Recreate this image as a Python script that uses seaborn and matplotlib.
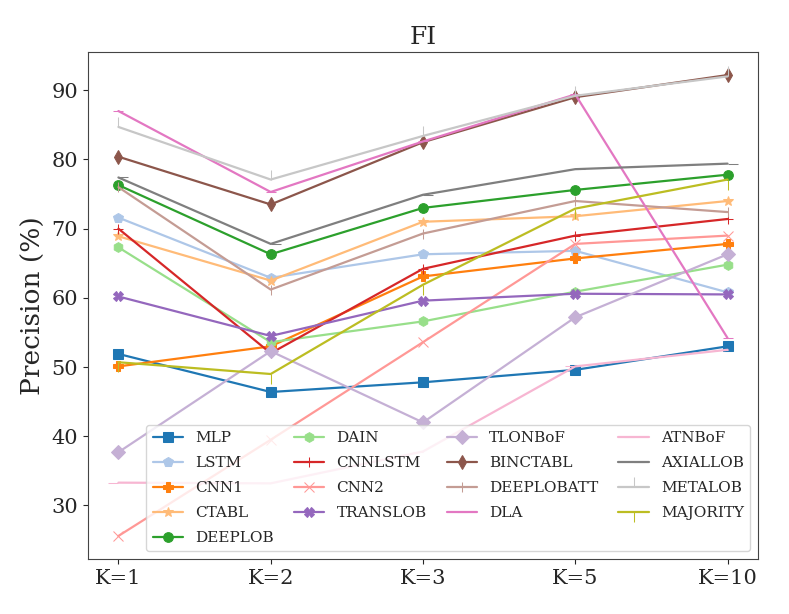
import numpy as np
import pandas as pd
import matplotlib
matplotlib.use("Agg")
import matplotlib.pyplot as plt
import seaborn as sns

# horizons on the x axis
horizons = ['K=1', 'K=2', 'K=3', 'K=5', 'K=10']

# precision (%) per model
mlp = [51.9, 46.4, 47.8, 49.6, 53.0]
lstm = [71.6, 62.9, 66.3, 66.8, 60.8]
cnn1 = [50.1, 53.0, 63.1, 65.7, 67.8]
ctabl = [68.9, 62.5, 71.0, 71.8, 74.0]
deeplob = [76.3, 66.3, 73.0, 75.6, 77.8]
dain = [67.3, 53.6, 56.6, 60.9, 64.8]
cnnlstm = [70.0, 52.0, 64.2, 69.0, 71.4]
cnn2 = [25.6, 39.5, 53.6, 67.8, 69.0]
translob = [60.2, 54.5, 59.6, 60.6, 60.5]
tlonbof = [37.7, 52.3, 42.0, 57.2, 66.3]
binctabl = [80.4, 73.5, 82.5, 89.0, 92.2]
deeplobatt = [76.0, 61.2, 69.3, 74.0, 72.4]
dla = [87.0, 75.3, 82.6, 89.4, 54.2]
atnbof = [33.3, 33.2, 37.8, 50.1, 52.5]
axiallob = [77.4, 67.8, 74.9, 78.6, 79.4]
metalob = [84.7, 77.1, 83.4, 89.2, 92.0]
majority = [50.7, 49.0, 61.9, 72.9, 77.1]

models = ['MLP', 'LSTM', 'CNN1', 'CTABL', 'DEEPLOB', 'DAIN', 'CNNLSTM', 'CNN2',
          'TRANSLOB', 'TLONBoF', 'BINCTABL', 'DEEPLOBATT', 'DLA', 'ATNBoF',
          'AXIALLOB', 'METALOB', 'MAJORITY']
values = [mlp, lstm, cnn1, ctabl, deeplob, dain, cnnlstm, cnn2, translob, tlonbof,
          binctabl, deeplobatt, dla, atnbof, axiallob, metalob, majority]
markers = ['s', 'p', 'P', '*', 'o', 'h', '+', 'x', 'X', 'D', 'd', '|', '_',
           0, 1, 2, 3]

sns.set_style("ticks")
plt.rcParams['font.family'] = ['DejaVu Serif']
plt.rcParams['axes.edgecolor'] = '#444444'

colors = sns.color_palette('tab20', 20)

fig, ax = plt.subplots(figsize=(7.89, 6.14), dpi=100)
fig.subplots_adjust(left=0.1115, right=0.9607, bottom=0.0896, top=0.9153)

for i, (name, vals) in enumerate(zip(models, values)):
    df = pd.DataFrame({'horizon': horizons, 'precision': vals})
    sns.lineplot(data=df, x='horizon', y='precision', sort=False, ax=ax,
                 color=colors[i], marker=markers[i], markersize=7,
                 markeredgecolor=colors[i], markerfacecolor=colors[i],
                 linewidth=1.6, label=name)

ax.set_title('FI', fontsize=18)
ax.set_xlabel('')
ax.set_ylabel('Precision (%)', fontsize=19)
ax.tick_params(axis='both', labelsize=15)
ax.legend(ncol=4, loc='lower right', fontsize=11, labelspacing=0.72,
          columnspacing=1.3)

plt.savefig('out.png', dpi=100)
